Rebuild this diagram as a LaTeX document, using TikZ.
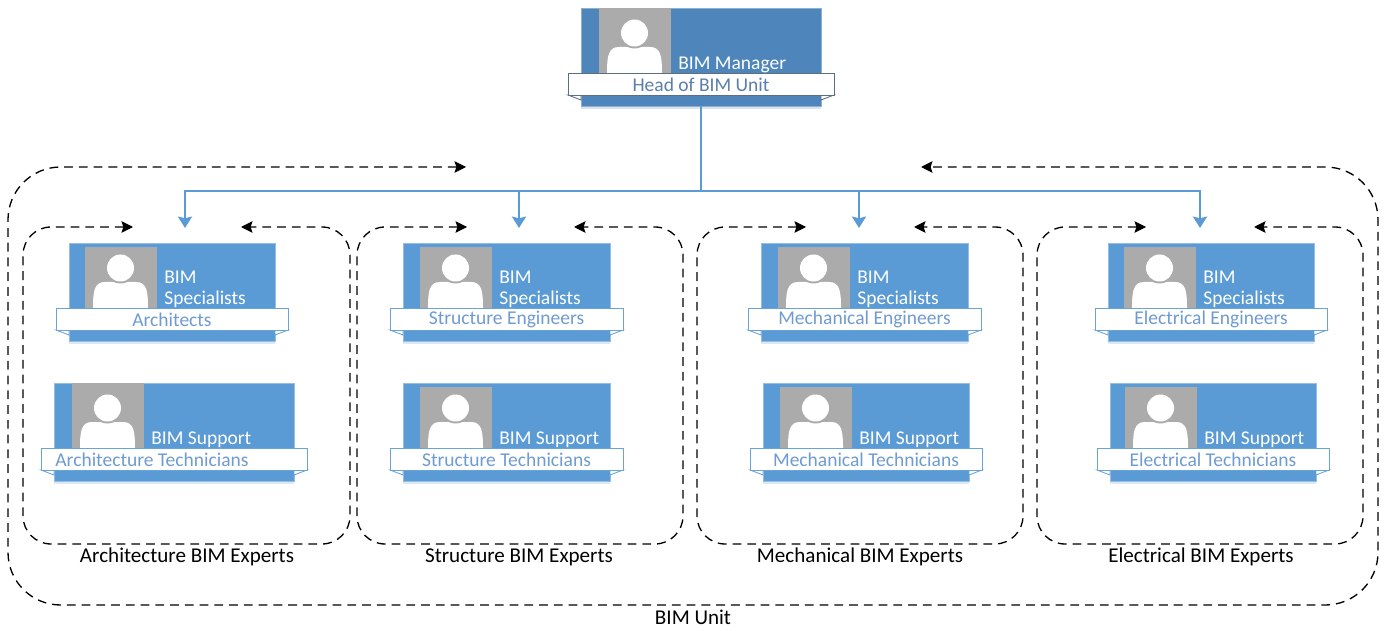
\documentclass[tikz,border=0pt]{standalone}
\usepackage{fontspec}
\setmainfont{Carlito}
\usetikzlibrary{arrows.meta}
\definecolor{cardfill}{HTML}{5B9BD5}
\definecolor{ribbonline}{HTML}{6AA3D8}
\definecolor{ribbontext}{HTML}{6F9BD3}
\definecolor{photogray}{HTML}{ABABAB}
\definecolor{managerblue}{HTML}{4E85BA}
\definecolor{managerline}{HTML}{5C6F82}
\definecolor{managertext}{HTML}{5B7FA8}
\tikzset{
  cardbox/.style={fill=cardfill, draw=cardfill!65!white, line width=0.4pt, inner sep=0pt},
  photobox/.style={fill=photogray, inner sep=0pt},
  ribbon/.style={draw=ribbonline, fill=white, line width=0.5pt, inner sep=0pt, text=ribbontext, font=\fontsize{11.1}{13}\selectfont},
  rolelabel/.style={text=white, inner sep=0pt, anchor=south west, align=left, font=\fontsize{11.1}{11.9}\selectfont},
  teamlabel/.style={inner sep=0pt, font=\fontsize{12}{14}\selectfont},
  dashbox/.style={{Stealth[length=6.5pt,width=6.5pt,inset=1pt]}-{Stealth[length=6.5pt,width=6.5pt,inset=1pt]}, draw=black, line width=0.75pt, dash pattern=on 5pt off 3.4pt, rounded corners=16pt},
  reportline/.style={draw=cardfill, line width=1.4pt},
  reporttip/.style={-{Stealth[length=6.5pt,width=8pt,inset=1pt]}},
}
% name, left, right, top, photo left, photo top, role, ribbon text
\newcommand{\bimcard}[8]{
  \fill[cardfill!22] (#2,#4+98) rectangle (#3,#4+101);
  \node[cardbox, minimum width={(#3-#2)*0.02cm}, minimum height=1.96cm] (#1) at ({(#2+#3)/2},{#4+49}) {};
  \node[photobox, minimum width=1.44cm, minimum height={(#4+65-#6)*0.02cm}] (#1-photo) at ({#5+36},{(#4+65+#6)/2}) {};
  \begin{scope}[shift={(#5,#4+65)}]
    \fill[white] (8,0) .. controls (8,-16) and (9,-26) .. (20,-26) -- (51,-26) .. controls (62,-26) and (63,-16) .. (63,0) -- cycle;
    \fill[photogray] (35.5,-40) circle[radius=15.5];
    \fill[white] (35.5,-40) circle[radius=13.5];
  \end{scope}
  \fill[white, draw=ribbonline, line width=0.5pt] (#2-13,#4+87) -- (#2,#4+92) -- (#2,#4+87) -- cycle;
  \fill[white, draw=ribbonline, line width=0.5pt] (#3+13,#4+87) -- (#3,#4+92) -- (#3,#4+87) -- cycle;
  \node[ribbon, minimum width={(#3-#2+26)*0.02cm}, minimum height=0.44cm] (#1-ribbon) at ({(#2+#3)/2},{#4+76.5}) {#8};
  \node[rolelabel] (#1-role) at ({#5+79},{#4+65}) {#7};
}
\begin{document}
\begin{tikzpicture}[x=0.02cm, y=-0.02cm]
  \useasboundingbox (0,0) rectangle (1389,631);

  % head of the unit
  \begin{scope}
    \colorlet{cardfill}{managerblue}
    \colorlet{ribbonline}{managerline}
    \colorlet{ribbontext}{managertext}
    \bimcard{manager}{581}{821}{8}{599}{8}{BIM Manager}{Head of BIM Unit}
  \end{scope}

  % the four teams
  \bimcard{archspec}{69}{275}{243}{85}{247}{BIM\\Specialists}{Architects}
  \bimcard{archsup}{54}{294}{383}{72}{383}{BIM Support}{Architecture Technicians\kern.88cm}
  \bimcard{strucspec}{403}{610}{243}{420}{247}{BIM\\Specialists}{Structure Engineers}
  \bimcard{strucsup}{403}{610}{383}{420}{387}{BIM Support}{Structure Technicians}
  \bimcard{mechspec}{761}{968}{243}{778}{247}{BIM\\Specialists}{Mechanical Engineers}
  \bimcard{mechsup}{763}{969}{383}{780}{387}{BIM Support}{Mechanical Technicians}
  \bimcard{elecspec}{1108}{1314}{243}{1124}{247}{BIM\\Specialists}{Electrical Engineers}
  \bimcard{elecsup}{1110}{1316}{383}{1125}{387}{BIM Support}{Electrical Technicians}

  % dashed frames
  \draw[dashbox, rounded corners=30pt] (466,167) -- (8,167) -- (8,605) -- (1378,605) -- (1378,167) -- (921,167);
  \draw[dashbox] (133,227) -- (23,227) -- (23,544) -- (350,544) -- (350,227) -- (241,227);
  \draw[dashbox] (467,227) -- (357,227) -- (357,544) -- (683,544) -- (683,227) -- (574,227);
  \draw[dashbox] (806,227) -- (697,227) -- (697,544) -- (1023,544) -- (1023,227) -- (914,227);
  \draw[dashbox] (1146,227) -- (1037,227) -- (1037,544) -- (1363,544) -- (1363,227) -- (1254,227);

  \node[teamlabel] (archlabel) at (187,557) {Architecture BIM Experts};
  \node[teamlabel] (struclabel) at (519,557) {Structure BIM Experts};
  \node[teamlabel] (mechlabel) at (860,557) {Mechanical BIM Experts};
  \node[teamlabel] (eleclabel) at (1201,557) {Electrical BIM Experts};
  \node[teamlabel] (unitlabel) at (693,617) {BIM Unit};

  % reporting lines
  \coordinate (bus) at (701,191);
  \coordinate (archtip) at (185,228);
  \coordinate (structip) at (519,228);
  \coordinate (mechtip) at (859,228);
  \coordinate (electip) at (1200,228);
  \draw[reportline] (manager.south) -- (bus);
  \draw[reportline, reporttip] (bus) -| (archtip);
  \draw[reportline, reporttip] (bus) -| (structip);
  \draw[reportline, reporttip] (bus) -| (mechtip);
  \draw[reportline, reporttip] (bus) -| (electip);
\end{tikzpicture}
\end{document}
